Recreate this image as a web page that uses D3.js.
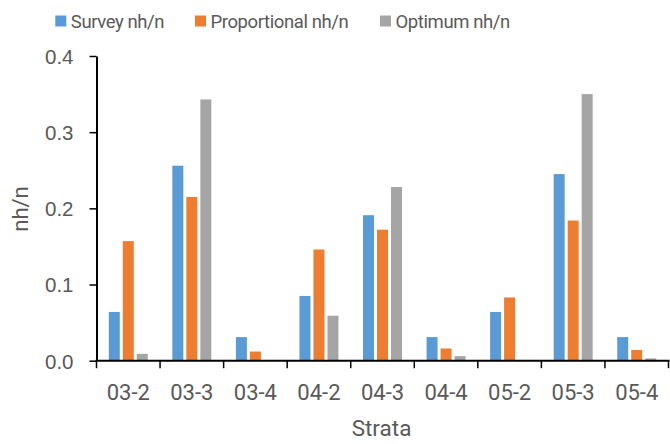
<!DOCTYPE html>
<html>
<head>
<meta charset="utf-8">
<script src="https://cdn.jsdelivr.net/npm/d3@7/dist/d3.min.js"></script>
<style>
  html, body { margin: 0; padding: 0; background: #fff; }
  svg { display: block; font-family: Roboto, "Noto Sans", sans-serif; }
</style>
</head>
<body>
<svg id="chart" width="670" height="444"></svg>
<script>
// Strata and the sample allocation shares (nh/n) under each scheme
const strata = ["03-2", "03-3", "03-4", "04-2", "04-3", "04-4", "05-2", "05-3", "05-4"];
const seriesNames = ["Survey nh/n", "Proportional nh/n", "Optimum nh/n"];
const survey       = [0.064, 0.256, 0.031, 0.085, 0.191, 0.031, 0.064, 0.245, 0.031];
const proportional = [0.157, 0.215, 0.012, 0.146, 0.172, 0.016, 0.083, 0.184, 0.014];
const optimum      = [0.009, 0.343, 0.000, 0.059, 0.228, 0.006, 0.000, 0.350, 0.003];
const yTicks = [0, 0.1, 0.2, 0.3, 0.4];
const colors = ["#5B9BD5", "#ED7D31", "#A5A5A5"];

const seriesValues = [survey, proportional, optimum];
const rows = strata.map((s, i) => ({
  stratum: s,
  values: seriesNames.map((name, k) => ({ name, value: seriesValues[k][i], color: colors[k] }))
}));

const svg = d3.select("#chart");
const textColor = "#595959";

const plot = { left: 96.5, right: 668.5, top: 56, bottom: 360.7 };

const x0 = d3.scaleBand().domain(strata).range([plot.left, plot.right]).paddingInner(0).paddingOuter(0);
const mid = x0.bandwidth() / 2;
const x1 = d3.scaleBand().domain(seriesNames).range([mid - 19.5, mid + 19.5]).paddingInner(0.214).paddingOuter(0);
const y = d3.scaleLinear().domain([0, 0.4]).range([plot.bottom, plot.top]);

// Bars
const groups = svg.append("g").selectAll("g")
  .data(rows).join("g")
  .attr("transform", d => `translate(${x0(d.stratum)},0)`);

groups.selectAll("rect")
  .data(d => d.values).join("rect")
  .attr("x", d => x1(d.name))
  .attr("width", x1.bandwidth())
  .attr("y", d => y(d.value))
  .attr("height", d => y(0) - y(d.value))
  .attr("fill", d => d.color);

// Y axis
const yAxis = svg.append("g")
  .attr("transform", `translate(${plot.left},0)`)
  .call(d3.axisLeft(y).tickValues(yTicks).tickFormat(d3.format(".1f")).tickSize(7).tickPadding(16).tickSizeOuter(0));
yAxis.select(".domain").attr("stroke", "#000").attr("stroke-width", 2);
yAxis.selectAll(".tick line").attr("stroke", "#000").attr("stroke-width", 1.5);
yAxis.selectAll(".tick text")
  .attr("fill", textColor).attr("font-size", 20.5).attr("dy", "0.36em");

// X axis: ticks sit on the category boundaries
const xAxisG = svg.append("g").attr("transform", `translate(0,${plot.bottom})`);
xAxisG.append("line")
  .attr("x1", plot.left - 1).attr("x2", plot.right + 1)
  .attr("stroke", "#000").attr("stroke-width", 2);
const boundaries = strata.map(s => x0(s)).concat([x0(strata[strata.length - 1]) + x0.bandwidth()]);
xAxisG.selectAll("line.tick").data(boundaries).join("line")
  .attr("class", "tick")
  .attr("x1", d => d).attr("x2", d => d)
  .attr("y1", 0).attr("y2", 7.5)
  .attr("stroke", "#000").attr("stroke-width", 1.5);
xAxisG.selectAll("text").data(strata).join("text")
  .attr("x", d => x0(d) + mid)
  .attr("y", 39.5)
  .attr("text-anchor", "middle")
  .attr("fill", textColor)
  .attr("font-size", 22)
  .text(d => d);

// Axis titles
svg.append("text")
  .attr("x", 381.5).attr("y", 436)
  .attr("text-anchor", "middle")
  .attr("fill", textColor).attr("font-size", 22.5)
  .text("Strata");

svg.append("text")
  .attr("transform", "translate(27.5,209) rotate(-90)")
  .attr("text-anchor", "middle")
  .attr("fill", textColor).attr("font-size", 22)
  .text("nh/n");

// Legend
const legendX = [55.3, 195, 380];
const legend = svg.append("g").selectAll("g")
  .data(seriesNames).join("g")
  .attr("transform", (d, i) => `translate(${legendX[i]},0)`);
legend.append("rect")
  .attr("x", 0).attr("y", 15.5)
  .attr("width", 11).attr("height", 11)
  .attr("fill", (d, i) => colors[i]);
legend.append("text")
  .attr("x", 15.5).attr("y", 28)
  .attr("fill", textColor).attr("font-size", 18.5)
  .attr("letter-spacing", -0.4)
  .text(d => d);
</script>
</body>
</html>
